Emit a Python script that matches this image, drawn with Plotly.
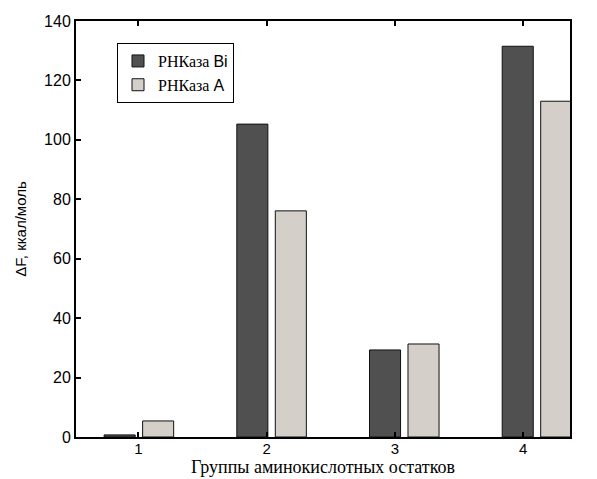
import plotly.graph_objects as go

groups = [1, 2, 3, 4]
tick_labels = ["1", "2", "3", "4"]
rnase_bi = [0.7, 105.3, 29.3, 131.5]
rnase_a = [5.4, 76.1, 31.3, 113.0]
series_names = ["РНКаза <span style='font-family:Liberation Sans'>Bi</span>",
                "РНКаза <span style='font-family:Liberation Sans'>A</span>"]

fig = go.Figure()
# invisible trace so the tick axis is drawn
fig.add_trace(go.Scatter(x=groups, y=[0] * len(groups), mode="markers",
                         marker=dict(opacity=0), showlegend=False, hoverinfo="skip"))
fig.add_trace(go.Bar(x=groups, y=rnase_bi, name=series_names[0], xaxis="x2",
                     width=0.234, offset=-0.262,
                     marker=dict(color="#505050", line=dict(color="#111111", width=1))))
fig.add_trace(go.Bar(x=groups, y=rnase_a, name=series_names[1], xaxis="x2",
                     width=0.234, offset=0.028,
                     marker=dict(color="#d4d0c9", line=dict(color="#111111", width=1))))

fig.update_layout(
    width=589, height=471,
    margin=dict(l=68, r=27, t=13, b=42),
    paper_bgcolor="white", plot_bgcolor="white",
    showlegend=True,
    legend=dict(x=0.083, y=0.947, xanchor="left", yanchor="top",
                bordercolor="black", borderwidth=1, bgcolor="white",
                font=dict(family="Liberation Serif", size=16, color="black"),
                tracegroupgap=0, itemwidth=30),
    xaxis=dict(range=[0.514, 4.365], tickvals=groups, ticktext=tick_labels,
               ticks="inside", ticklen=5, tickwidth=2, tickcolor="black",
               showline=True, linecolor="black", linewidth=2, mirror="ticks",
               showgrid=False, zeroline=False, automargin=False, layer="above traces",
               ticklabelstandoff=-3,
               tickfont=dict(family="Liberation Sans", size=15, color="black"),
               title=dict(text="Группы аминокислотных остатков", standoff=0,
                          font=dict(family="Liberation Serif", size=18, color="black"))),
    xaxis2=dict(range=[0.526, 4.249], overlaying="x", visible=False,
                showgrid=False, zeroline=False),
    yaxis=dict(range=[0, 140], tickvals=[0, 20, 40, 60, 80, 100, 120, 140],
               ticks="inside", ticklen=5, tickwidth=2, tickcolor="black",
               showline=True, linecolor="black", linewidth=2, mirror=True,
               showgrid=False, zeroline=False, automargin=False, layer="above traces",
               tickfont=dict(family="Liberation Sans", size=16, color="black"),
               title=dict(text="ΔF, ккал/моль", standoff=14,
                          font=dict(family="Liberation Sans", size=15, color="black"))),
)

fig.write_html("out.html")
